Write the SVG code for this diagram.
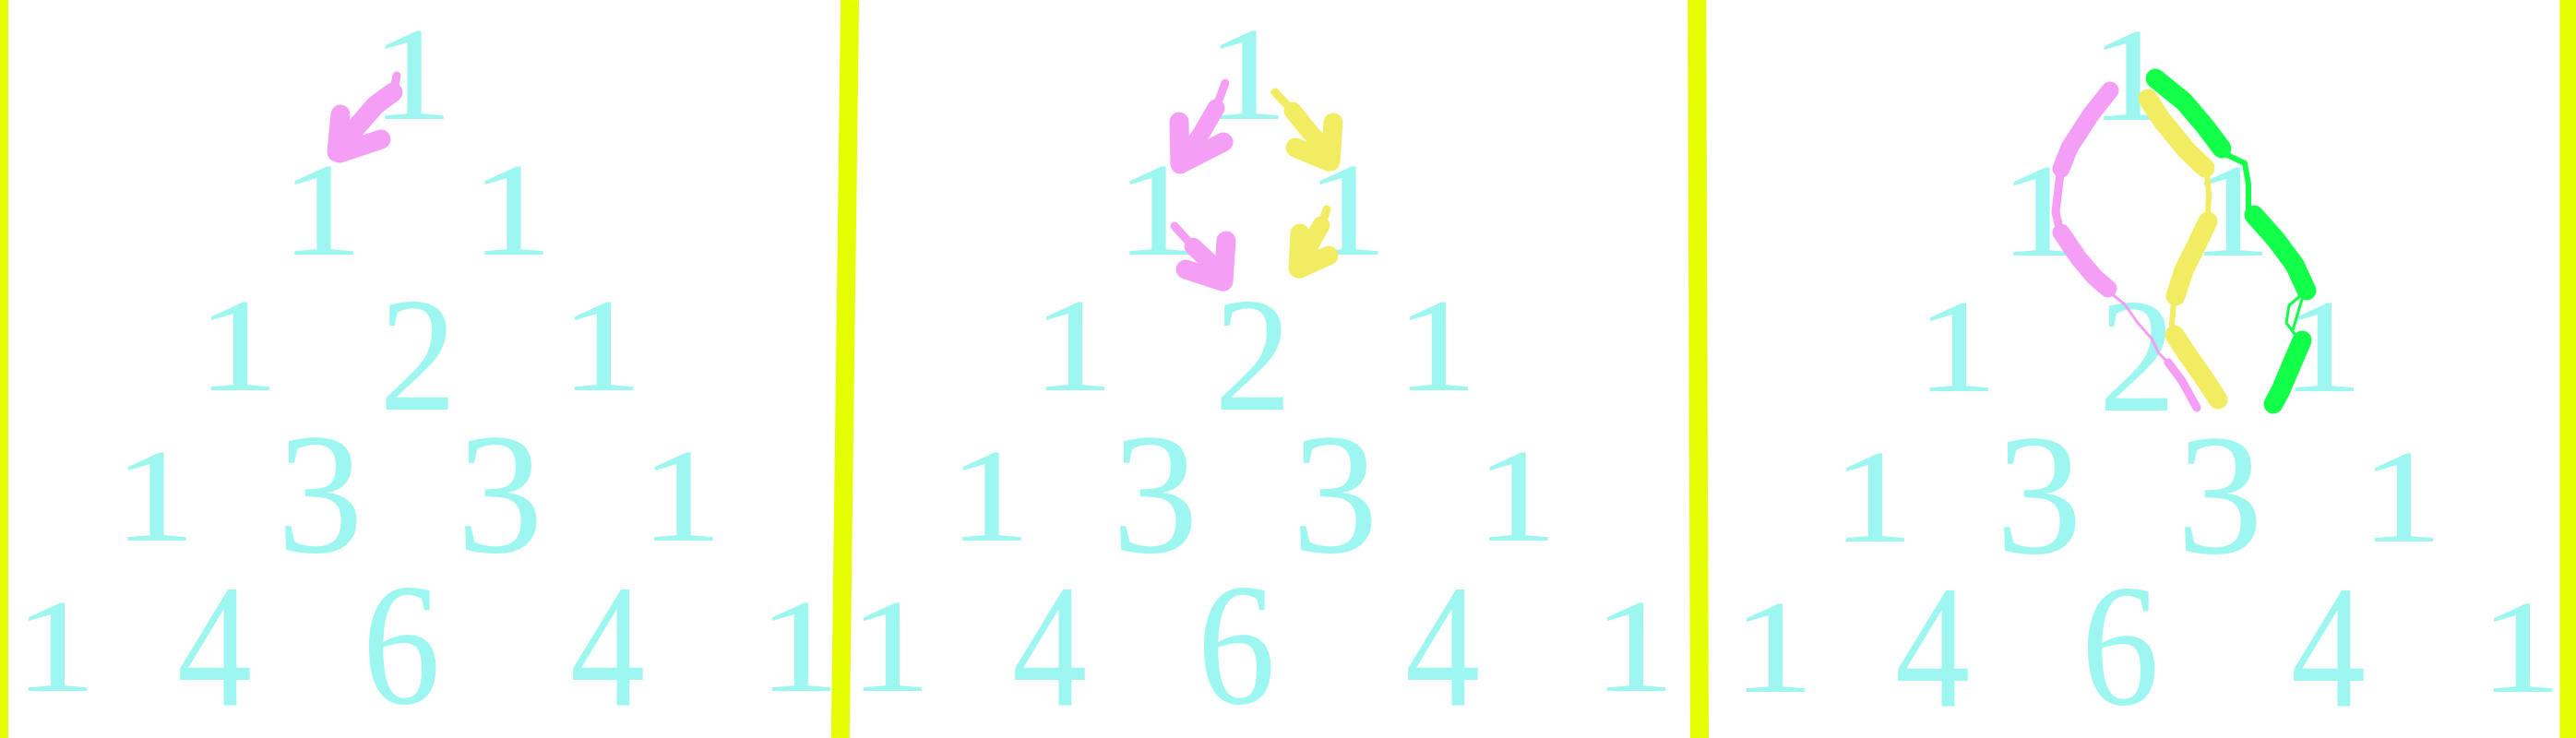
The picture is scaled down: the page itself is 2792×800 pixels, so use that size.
<svg xmlns="http://www.w3.org/2000/svg" width="2792" height="800" viewBox="0 0 2792 800">
<style>
.d{font-family:"Liberation Serif","Times New Roman",serif;fill:#9ef6f1;text-anchor:middle}
.g1{font-size:145px}.g2{font-size:176px}.g3{font-size:187px}.g4{font-size:191px}.g6{font-size:188px}
.bar{stroke:#e6ff00;stroke-width:20;fill:none}
.s{fill:none;stroke-linecap:round;stroke-linejoin:round}
.pk{stroke:#f49ef5}.yl{stroke:#f2ec62}.gr{stroke:#12ff4a}
.w18{stroke-width:21}.w16{stroke-width:19}.w8{stroke-width:9}.w6{stroke-width:6}.w3{stroke-width:3}
</style>
<rect width="2792" height="800" fill="#ffffff"/>
<g id="panel1">
<g id="p1-r1-1"><text class="d g1" transform="translate(446.5,129) scale(1.24,1)">1</text></g>
<g id="p1-r2-1"><text class="d g1" transform="translate(348.5,276) scale(1.24,1)">1</text></g>
<g id="p1-r2-2"><text class="d g1" transform="translate(554.5,276) scale(1.24,1)">1</text></g>
<g id="p1-r3-1"><text class="d g1" transform="translate(258,423) scale(1.24,1)">1</text></g>
<g id="p1-r3-2"><text class="d g2" transform="translate(453,444) scale(0.95,1)">2</text></g>
<g id="p1-r3-3"><text class="d g1" transform="translate(652,423) scale(1.24,1)">1</text></g>
<g id="p1-r4-1"><text class="d g1" transform="translate(167.5,586) scale(1.24,1)">1</text></g>
<g id="p1-r4-2"><text class="d g3" transform="translate(347,598) scale(1.0,1)">3</text></g>
<g id="p1-r4-3"><text class="d g3" transform="translate(542,598) scale(1.0,1)">3</text></g>
<g id="p1-r4-4"><text class="d g1" transform="translate(738.5,586) scale(1.24,1)">1</text></g>
<g id="p1-r5-1"><text class="d g1" transform="translate(60,749) scale(1.24,1)">1</text></g>
<g id="p1-r5-2"><text class="d g4" transform="translate(232.5,765) scale(0.85,1)">4</text></g>
<g id="p1-r5-3"><text class="d g6" transform="translate(435,762) scale(0.9,1)">6</text></g>
<g id="p1-r5-4"><text class="d g4" transform="translate(658.5,765) scale(0.85,1)">4</text></g>
<g id="p1-r5-5"><text class="d g1" transform="translate(866,749) scale(1.24,1)">1</text></g>
</g>
<g id="panel2">
<g id="p2-r1-1"><text class="d g1" transform="translate(1351.5,129) scale(1.24,1)">1</text></g>
<g id="p2-r2-1"><text class="d g1" transform="translate(1253.5,276) scale(1.24,1)">1</text></g>
<g id="p2-r2-2"><text class="d g1" transform="translate(1459.5,276) scale(1.24,1)">1</text></g>
<g id="p2-r3-1"><text class="d g1" transform="translate(1163,423) scale(1.24,1)">1</text></g>
<g id="p2-r3-2"><text class="d g2" transform="translate(1358,444) scale(0.95,1)">2</text></g>
<g id="p2-r3-3"><text class="d g1" transform="translate(1557,423) scale(1.24,1)">1</text></g>
<g id="p2-r4-1"><text class="d g1" transform="translate(1072.5,586) scale(1.24,1)">1</text></g>
<g id="p2-r4-2"><text class="d g3" transform="translate(1252,598) scale(1.0,1)">3</text></g>
<g id="p2-r4-3"><text class="d g3" transform="translate(1447,598) scale(1.0,1)">3</text></g>
<g id="p2-r4-4"><text class="d g1" transform="translate(1643.5,586) scale(1.24,1)">1</text></g>
<g id="p2-r5-1"><text class="d g1" transform="translate(965,749) scale(1.24,1)">1</text></g>
<g id="p2-r5-2"><text class="d g4" transform="translate(1137.5,765) scale(0.85,1)">4</text></g>
<g id="p2-r5-3"><text class="d g6" transform="translate(1340,762) scale(0.9,1)">6</text></g>
<g id="p2-r5-4"><text class="d g4" transform="translate(1563.5,765) scale(0.85,1)">4</text></g>
<g id="p2-r5-5"><text class="d g1" transform="translate(1771,749) scale(1.24,1)">1</text></g>
</g>
<g id="panel3">
<g id="p3-r1-1"><text class="d g1" transform="translate(2309.5,130) scale(1.24,1)">1</text></g>
<g id="p3-r2-1"><text class="d g1" transform="translate(2211.5,277) scale(1.24,1)">1</text></g>
<g id="p3-r2-2"><text class="d g1" transform="translate(2418,277) scale(1.24,1)">1</text></g>
<g id="p3-r3-1"><text class="d g1" transform="translate(2121,424) scale(1.24,1)">1</text></g>
<g id="p3-r3-2"><text class="d g2" transform="translate(2316.5,445) scale(0.95,1)">2</text></g>
<g id="p3-r3-3"><text class="d g1" transform="translate(2517,424) scale(1.24,1)">1</text></g>
<g id="p3-r4-1"><text class="d g1" transform="translate(2030,587) scale(1.24,1)">1</text></g>
<g id="p3-r4-2"><text class="d g3" transform="translate(2210,599) scale(1.0,1)">3</text></g>
<g id="p3-r4-3"><text class="d g3" transform="translate(2406,599) scale(1.0,1)">3</text></g>
<g id="p3-r4-4"><text class="d g1" transform="translate(2603,587) scale(1.24,1)">1</text></g>
<g id="p3-r5-1"><text class="d g1" transform="translate(1922,750) scale(1.24,1)">1</text></g>
<g id="p3-r5-2"><text class="d g4" transform="translate(2094.5,766) scale(0.85,1)">4</text></g>
<g id="p3-r5-3"><text class="d g6" transform="translate(2298,763) scale(0.9,1)">6</text></g>
<g id="p3-r5-4"><text class="d g4" transform="translate(2523.5,766) scale(0.85,1)">4</text></g>
<g id="p3-r5-5"><text class="d g1" transform="translate(2732,750) scale(1.24,1)">1</text></g>
</g>
<g id="connectors">
<path class="s pk w8" d="M430,82 L427,97"/>
<path class="s pk w18" d="M426,100 L407,114 L387,137 L366,164"/>
<path class="s pk w18" d="M369,124 L365,165"/>
<path class="s pk w18" d="M413,151 L368,166"/>

<path class="s pk w8" d="M1328,90 L1319,114"/>
<path class="s pk w16" d="M1318,117 L1303,143 L1287,167 L1281,178"/>
<path class="s pk w18" d="M1278,132 L1279,178"/>
<path class="s pk w18" d="M1326,154 L1283,176"/>
<path class="s yl w8" d="M1382,100 L1399,118"/>
<path class="s yl w16" d="M1401,120 L1417,140 L1437,163 L1441,175"/>
<path class="s yl w18" d="M1445,133 L1442,175"/>
<path class="s yl w18" d="M1404,160 L1440,175"/>
<path class="s pk w8" d="M1273,245 L1291,265"/>
<path class="s pk w16" d="M1293,267 L1310,283 L1324,300"/>
<path class="s pk w18" d="M1329,261 L1326,305"/>
<path class="s pk w18" d="M1285,292 L1325,305"/>
<path class="s yl w8" d="M1438,227 L1433,242"/>
<path class="s yl w16" d="M1432,244 L1423,260 L1409,288"/>
<path class="s yl w18" d="M1409,253 L1407,291"/>
<path class="s yl w18" d="M1440,277 L1409,291"/>

<path class="s pk w16" d="M2287,98 L2267,123 L2243,160 L2234,183"/>
<path class="s pk w8" d="M2233,188 L2230,213 L2228,230 L2232,247"/>
<path class="s pk w16" d="M2234,252 L2253,280 L2270,300 L2285,313"/>
<path class="s pk w3" d="M2288,318 L2303,330 L2317,350 L2332,367 L2340,383 L2350,393"/>
<path class="s pk w8" d="M2350,393 L2365,413 L2381,442"/>
<path class="s yl w18" d="M2328,107 L2343,130 L2370,163 L2390,182"/>
<path class="s yl w6" d="M2392,188 L2394,210 L2393,232"/>
<path class="s yl w18" d="M2393,240 L2380,267 L2367,293 L2358,321"/>
<path class="s yl w6" d="M2356,328 L2354,350 L2355,358"/>
<path class="s yl w18" d="M2357,363 L2370,383 L2387,407 L2404,433"/>
<path class="s gr w18" d="M2336,85 L2367,110 L2390,137 L2408,161"/>
<path class="s gr w6" d="M2412,167 L2433,177 L2437,200 L2437,226"/>
<path class="s gr w18" d="M2443,233 L2467,260 L2487,287 L2500,315"/>
<path class="s gr w3" d="M2494,320 L2481,331 L2478,350 L2487,362 M2496,321 L2485,358"/>
<path class="s gr w18" d="M2495,369 L2483,397 L2472,423 L2464,438"/>
</g>
<g id="separators">
<line class="bar" x1="-1" y1="0" x2="-1" y2="800"/>
<line class="bar" x1="921.1" y1="0" x2="910.8" y2="800"/>
<line class="bar" x1="1839.2" y1="0" x2="1842" y2="800"/>
<line class="bar" x1="2784.5" y1="0" x2="2784.5" y2="800"/>
</g>
</svg>
